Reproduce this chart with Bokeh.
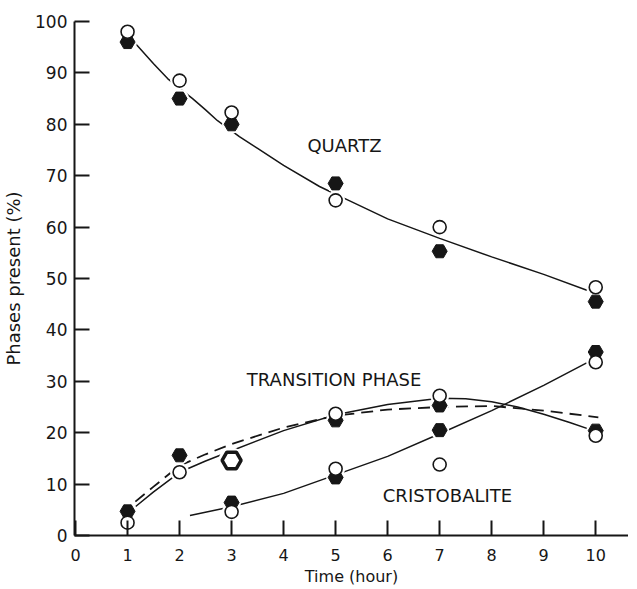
from bokeh.plotting import figure
from bokeh.models import Range1d, FixedTicker
from bokeh.core.properties import value
from bokeh.embed import file_html
from bokeh.resources import INLINE

# ---- data ----
hours = [1, 2, 3, 5, 7, 10]
quartz_filled = [96, 85, 80, 68.5, 55.3, 45.5]
quartz_open = [98, 88.5, 82.3, 65.2, 60, 48.3]

trans_hours = [1, 2, 5, 7, 10]
trans_filled = [4.7, 15.6, 22.4, 25.3, 20.4]
trans_open = [2.5, 12.3, 23.7, 27.2, 19.4]
trans_big_x = [3]
trans_big_y = [14.6]

cris_hours = [3, 5, 7, 10]
cris_filled = [6.4, 11.3, 20.5, 35.7]
cris_open = [4.6, 13.0, 13.8, 33.7]

# fitted curves
quartz_curve_x = [1.0, 1.19, 1.5, 1.77, 2.0, 2.25, 2.5, 2.73, 3.0, 3.15, 3.5, 4.0, 4.69, 5.0, 5.23, 6.0, 7.0, 8.0, 9.0, 9.83]
quartz_curve_y = [97.3, 95.3, 91.8, 88.9, 87.0, 85.0, 82.8, 80.7, 78.7, 77.6, 75.3, 72.0, 67.9, 66.4, 65.3, 61.6, 57.8, 54.2, 50.8, 47.7]

trans_solid_x = [1.15, 1.5, 2, 2.5, 3, 4, 5, 6, 7, 7.5, 8, 8.5, 9, 9.5, 9.9]
trans_solid_y = [5.6, 8.5, 12.3, 14.5, 16.5, 20.4, 23.5, 25.5, 26.7, 26.6, 26.0, 25.0, 23.6, 22.0, 20.6]

trans_dash_x = [1.15, 1.5, 2, 2.5, 3, 4, 5, 6, 7, 8, 9, 10.05]
trans_dash_y = [6.6, 9.5, 13.6, 15.8, 17.8, 21.0, 23.3, 24.5, 25.0, 25.2, 24.3, 23.0]

cris_curve_x = [2.2, 3, 4, 5, 6, 7, 8, 9, 10]
cris_curve_y = [3.9, 5.6, 8.2, 11.8, 15.4, 19.8, 24.3, 29.2, 34.5]

x_ticks = [0, 1, 2, 3, 4, 5, 6, 7, 8, 9, 10]
y_ticks = [0, 10, 20, 30, 40, 50, 60, 70, 80, 90, 100]

labels = ["QUARTZ", "TRANSITION PHASE", "CRISTOBALITE"]
label_x = [5.17, 4.97, 7.15]
label_y = [75.9, 30.35, 7.8]

INK = "#161616"
FONT = "DejaVu Sans"

p = figure(frame_width=554, frame_height=514, output_backend="svg", toolbar_location=None,
           x_range=Range1d(-0.02, 10.63), y_range=Range1d(0, 100),
           min_border_left=67, min_border_right=0, min_border_top=21,
           min_border_bottom=44, background_fill_color="white",
           border_fill_color="white")
p.outline_line_color = None
p.grid.visible = False

for ax in (p.xaxis[0], p.yaxis[0]):
    ax.axis_line_width = 2
    ax.axis_line_color = INK
    ax.major_tick_line_width = 2
    ax.major_tick_line_color = INK
    ax.major_tick_in = 15
    ax.major_tick_out = 0
    ax.minor_tick_line_color = None
    ax.major_label_text_font = FONT
    ax.major_label_text_color = INK
    ax.axis_label_text_font = FONT
    ax.axis_label_text_font_style = "normal"
    ax.axis_label_text_color = INK

p.xaxis.ticker = FixedTicker(ticks=x_ticks)
p.yaxis.ticker = FixedTicker(ticks=y_ticks)
p.xaxis.major_label_text_font_size = "16px"
p.yaxis.major_label_text_font_size = "17px"
p.xaxis.major_label_standoff = 13
p.yaxis.major_label_standoff = 7
p.xaxis.axis_label = "Time (hour)"
p.yaxis.axis_label = "Phases present (%)"
p.xaxis.axis_label_text_font_size = "16px"
p.yaxis.axis_label_text_font_size = "18px"
p.xaxis.axis_label_standoff = 3
p.yaxis.axis_label_standoff = 8

# curves
p.line(quartz_curve_x, quartz_curve_y, line_color=INK, line_width=1.5)
p.line(trans_solid_x, trans_solid_y, line_color=INK, line_width=1.5)
p.line(trans_dash_x, trans_dash_y, line_color=INK, line_width=1.8, line_dash="12 7")
p.line(cris_curve_x, cris_curve_y, line_color=INK, line_width=1.5)

# white halos that cut the lines around the markers
for xs, ys in [(hours, quartz_filled), (hours, quartz_open), (trans_hours, trans_filled),
               (trans_hours, trans_open), (cris_hours, cris_filled), (cris_hours, cris_open)]:
    p.scatter(xs, ys, marker="circle", size=19, fill_color="white", line_color=None)
p.scatter(trans_big_x, trans_big_y, marker="circle", size=26, fill_color="white", line_color=None)

# filled hexagons
for xs, ys in [(hours, quartz_filled), (trans_hours, trans_filled), (cris_hours, cris_filled)]:
    p.scatter(xs, ys, marker="hex", size=15, fill_color=INK, line_color=INK, line_width=1)
# open circles
for xs, ys in [(hours, quartz_open), (trans_hours, trans_open), (cris_hours, cris_open)]:
    p.scatter(xs, ys, marker="circle", size=13, fill_color="white", line_color=INK, line_width=1.6)
# large open hexagon
p.scatter(trans_big_x, trans_big_y, marker="hex", size=19, fill_color="white",
          line_color=INK, line_width=3.5)

p.text(label_x, label_y, text=labels, text_font=value(FONT), text_font_size="18px",
       text_color=INK, text_align="center", text_baseline="middle")

open("out.html", "w").write(file_html(p, INLINE))
